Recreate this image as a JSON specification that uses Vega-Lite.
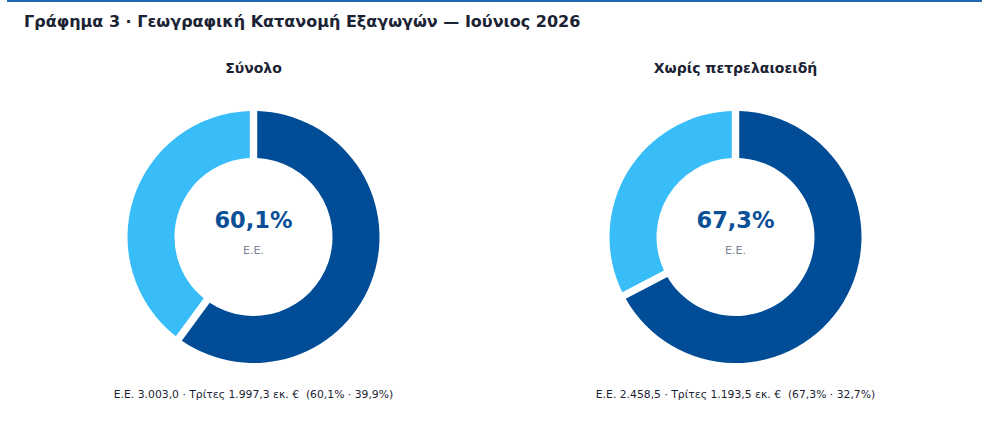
{
  "$schema": "https://vega.github.io/schema/vega-lite/v6.json",
  "width": 975,
  "height": 474,
  "padding": {"left": 6, "right": 4, "top": 0, "bottom": 0},
  "title": {
    "text": "Γράφημα 3 · Γεωγραφική Κατανομή Εξαγωγών — Ιούνιος 2026",
    "anchor": "start",
    "orient": "top",
    "offset": -43,
    "dx": 18,
    "baseline": "alphabetic",
    "font": "DejaVu Sans",
    "fontSize": 16,
    "fontWeight": "bold",
    "color": "#1a2233"
  },
  "datasets": {
    "segments": [
      {"panel": "Σύνολο", "region": "Ε.Ε.", "order": 1, "share": 60.1, "value": 3003.0},
      {"panel": "Σύνολο", "region": "Τρίτες χώρες", "order": 2, "share": 39.9, "value": 1997.3},
      {"panel": "Χωρίς πετρελαιοειδή", "region": "Ε.Ε.", "order": 1, "share": 67.3, "value": 2458.5},
      {"panel": "Χωρίς πετρελαιοειδή", "region": "Τρίτες χώρες", "order": 2, "share": 32.7, "value": 1193.5}
    ],
    "panels": [
      {"panel": "Σύνολο", "eu_label": "60,1%", "footer": "Ε.Ε. 3.003,0 · Τρίτες 1.997,3 εκ. €\u00a0 (60,1% · 39,9%)"},
      {"panel": "Χωρίς πετρελαιοειδή", "eu_label": "67,3%", "footer": "Ε.Ε. 2.458,5 · Τρίτες 1.193,5 εκ. €\u00a0 (67,3% · 32,7%)"}
    ]
  },
  "layer": [
    {
      "data": {"values": [{}]},
      "mark": {"type": "rule", "color": "#2166b3", "strokeWidth": 2},
      "encoding": {"y": {"value": 1}}
    },
    {
      "data": {"name": "segments"},
      "transform": [{"filter": "datum.panel === 'Σύνολο'"}],
      "mark": {"type": "arc", "radius": 126, "radius2": 79, "padAngle": 0.05},
      "encoding": {
        "x": {
          "field": "panel",
          "type": "nominal",
          "scale": {"domain": ["Σύνολο", "Χωρίς πετρελαιοειδή"], "padding": 0.5114},
          "axis": null
        },
        "theta": {"field": "share", "type": "quantitative", "stack": true},
        "order": {"field": "order", "type": "quantitative"},
        "color": {
          "field": "region",
          "type": "nominal",
          "scale": {"domain": ["Ε.Ε.", "Τρίτες χώρες"], "range": ["#004c97", "#38bdf8"]},
          "legend": null
        },
        "tooltip": [
          {"field": "region", "type": "nominal", "title": "Περιοχή"},
          {"field": "value", "type": "quantitative", "title": "εκ. €", "format": ",.1f"},
          {"field": "share", "type": "quantitative", "title": "%", "format": ".1f"}
        ]
      }
    },
    {
      "data": {"name": "segments"},
      "transform": [{"filter": "datum.panel === 'Χωρίς πετρελαιοειδή'"}],
      "mark": {"type": "arc", "radius": 126, "radius2": 79, "padAngle": 0.05},
      "encoding": {
        "x": {"field": "panel", "type": "nominal"},
        "theta": {"field": "share", "type": "quantitative", "stack": true},
        "order": {"field": "order", "type": "quantitative"},
        "color": {"field": "region", "type": "nominal"},
        "tooltip": [
          {"field": "region", "type": "nominal", "title": "Περιοχή"},
          {"field": "value", "type": "quantitative", "title": "εκ. €", "format": ",.1f"},
          {"field": "share", "type": "quantitative", "title": "%", "format": ".1f"}
        ]
      }
    },
    {
      "data": {"name": "panels"},
      "mark": {"type": "text", "dy": -168, "font": "DejaVu Sans", "fontSize": 14, "fontWeight": "bold", "color": "#1a2233"},
      "encoding": {
        "x": {"field": "panel", "type": "nominal"},
        "text": {"field": "panel"}
      }
    },
    {
      "data": {"name": "panels"},
      "mark": {"type": "text", "dy": -16, "font": "DejaVu Sans", "fontSize": 22.5, "fontWeight": "bold", "color": "#0b4f96"},
      "encoding": {
        "x": {"field": "panel", "type": "nominal"},
        "text": {"field": "eu_label"}
      }
    },
    {
      "data": {"name": "panels"},
      "mark": {"type": "text", "dy": 14, "font": "DejaVu Sans", "fontSize": 11, "color": "#7a8499"},
      "encoding": {
        "x": {"field": "panel", "type": "nominal"},
        "text": {"value": "Ε.Ε."}
      }
    },
    {
      "data": {"name": "panels"},
      "mark": {"type": "text", "dy": 158, "font": "DejaVu Sans", "fontSize": 10.8, "color": "#1a2233"},
      "encoding": {
        "x": {"field": "panel", "type": "nominal"},
        "text": {"field": "footer"}
      }
    }
  ],
  "config": {"view": {"stroke": null}}
}
